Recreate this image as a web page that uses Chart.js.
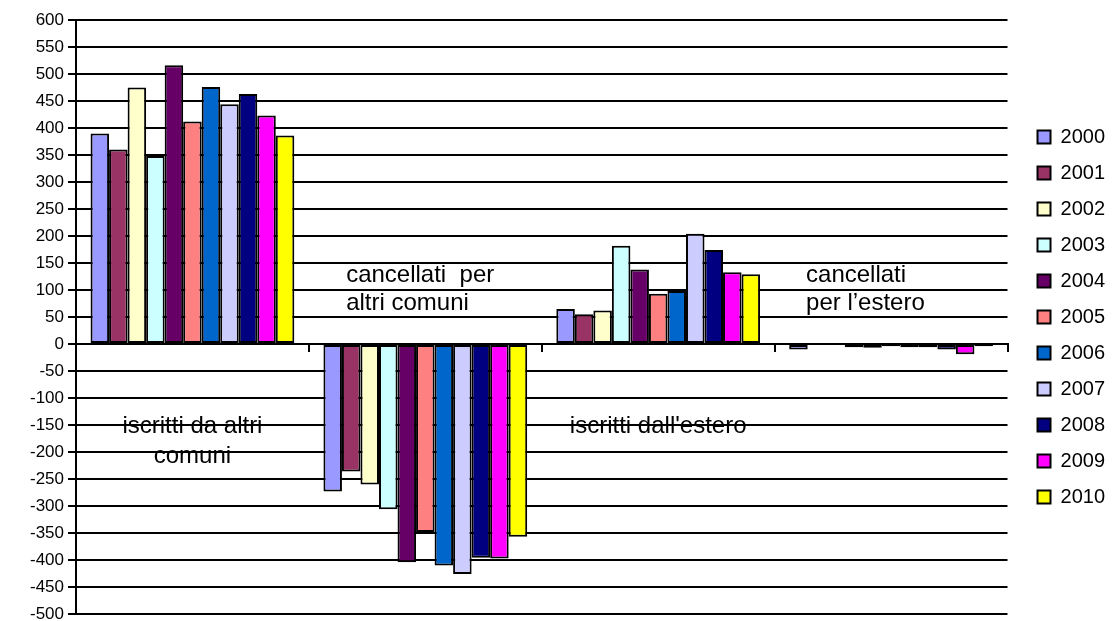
<!DOCTYPE html>
<html lang="it">
<head>
<meta charset="utf-8">
<title>Movimento migratorio 2000-2010</title>
<script src="https://cdn.jsdelivr.net/npm/chart.js@4.4.1/dist/chart.umd.min.js"></script>
<style>
  html, body { margin: 0; padding: 0; background: #fff; }
  #wrap { width: 1119px; height: 621px; position: relative; }
</style>
</head>
<body>
<div id="wrap"><canvas id="chart"></canvas></div>
<script>
// ─── Data ───
const CATEGORIES = [
  ['iscritti da altri', 'comuni'],
  ['cancellati  per', 'altri comuni'],
  ["iscritti dall'estero"],
  ['cancellati', 'per l\u2019estero'],
];
const YEARS = ['2000', '2001', '2002', '2003', '2004', '2005', '2006', '2007', '2008', '2009', '2010'];

// one array per year: [iscritti altri comuni, cancellati altri comuni, iscritti estero, cancellati estero]
const Y2000 = [390, -273, 65, -10];
const Y2001 = [360, -236, 55, -1];
const Y2002 = [475, -260, 62, -1];
const Y2003 = [348, -306, 182, -6];
const Y2004 = [516, -404, 138, -7];
const Y2005 = [412, -348, 93, -4];
const Y2006 = [476, -410, 98, -6];
const Y2007 = [444, -426, 204, -6];
const Y2008 = [463, -396, 174, -10];
const Y2009 = [423, -397, 133, -19];
const Y2010 = [386, -357, 129, -4];
const SERIES = [Y2000, Y2001, Y2002, Y2003, Y2004, Y2005, Y2006, Y2007, Y2008, Y2009, Y2010];

const Y_MIN = -500;
const Y_MAX = 600;
const Y_STEP = 50;

// classic office palette, one colour per year
const COLORS = ['#9999FF', '#993366', '#FFFFCC', '#CCFFFF', '#660066', '#FF8080',
                '#0066CC', '#CCCCFF', '#000080', '#FF00FF', '#FFFF00'];

const FONT = "'Liberation Sans', Arial, sans-serif";

// ─── Category captions drawn inside the plot ───
// x in category units, y = baseline of each line in data units
const captionPlugin = {
  id: 'captions',
  afterDatasetsDraw(chart, args, opts) {
    const { ctx, scales: { x, y } } = chart;
    ctx.save();
    ctx.font = `${opts.size}px ${FONT}`;
    ctx.fillStyle = '#000';
    ctx.textBaseline = 'alphabetic';
    opts.place.forEach((p, i) => {
      ctx.textAlign = p.align;
      const px = x.getPixelForValue(p.x);
      CATEGORIES[i].forEach((line, j) => {
        ctx.fillText(line, px, y.getPixelForValue(p.y[j]));
      });
    });
    ctx.restore();
  },
};

const ctx = document.getElementById('chart').getContext('2d');
new Chart(ctx, {
  type: 'bar',
  data: {
    labels: CATEGORIES,
    datasets: YEARS.map((yr, i) => ({
      label: yr,
      data: SERIES[i],
      backgroundColor: COLORS[i],
      borderColor: '#000',
      borderWidth: 2,
      borderSkipped: false,
      categoryPercentage: 0.875,
      barPercentage: 1,
    })),
  },
  options: {
    responsive: true,
    maintainAspectRatio: false,
    animation: false,
    layout: { padding: { top: 20, bottom: 7, left: 0, right: 4 } },
    plugins: {
      tooltip: { enabled: false },
      legend: {
        position: 'right',
        labels: {
          font: { family: FONT, size: 20 },
          color: '#000',
          boxWidth: 13,
          boxHeight: 13,
          padding: 16,
        },
      },
      captions: {
        size: 24,
        place: [
          { x: 0, align: 'center', y: [-165, -220] },
          { x: 0.66, align: 'left', y: [115, 63] },
          { x: 2, align: 'center', y: [-165] },
          { x: 2.635, align: 'left', y: [115, 63] },
        ],
      },
    },
    scales: {
      x: {
        position: { y: 0 },
        offset: true,
        grid: {
          offset: true,
          drawOnChartArea: false,
          drawTicks: true,
          tickLength: 7,
          color: '#000',
          lineWidth: 2,
        },
        border: { display: true, color: '#000', width: 2 },
        ticks: { display: false },
      },
      y: {
        min: Y_MIN,
        max: Y_MAX,
        ticks: {
          stepSize: Y_STEP,
          padding: 4,
          color: '#000',
          font: { family: FONT, size: 17 },
        },
        grid: { color: '#000', lineWidth: 2, tickLength: 8 },
        border: { color: '#000', width: 2 },
        afterFit(scale) {
          scale.width = 76;
          // plot edges come from layout padding alone
          scale.paddingTop = 0;
          scale.paddingBottom = 0;
        },
      },
      // empty spacer between plot and legend
      gap: {
        position: 'right',
        display: true,
        grid: { display: false },
        border: { display: false },
        ticks: { display: false },
        afterFit(scale) { scale.width = 14; },
      },
    },
  },
  plugins: [captionPlugin],
});
</script>
</body>
</html>
